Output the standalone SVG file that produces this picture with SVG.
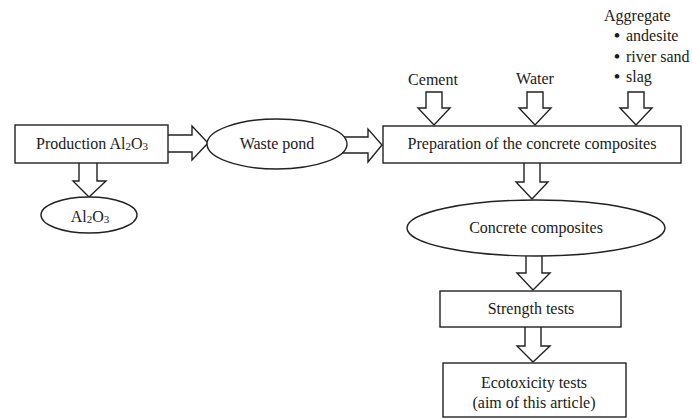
<svg xmlns="http://www.w3.org/2000/svg" width="692" height="419" viewBox="0 0 692 419">
<style>
.n{fill:#fff;stroke:#222;stroke-width:1.4}
.a{fill:#fff;stroke:#222;stroke-width:1.4;stroke-linejoin:miter}
text{font-family:"Liberation Serif","Times New Roman",serif;font-size:16px;fill:#1a1a1a}
.c{text-anchor:middle}
.s{font-size:11px}
.b{font-weight:bold;font-size:17px}
</style>
<rect width="692" height="419" fill="#fff"/>
<g id="connectors">
<polygon class="a" points="79,160 97,160 97,181 106,181 89,197 73,181 79,181"/>
<polygon class="a" points="160,135 192,135 192,126 208,143 192,160 192,152 160,152"/>
<polygon class="a" points="330,137 368,137 368,129 382,145 368,162 368,153 330,153"/>
<polygon class="a" points="426,92 442,92 442,108 450,108 434,125 418,108 426,108"/>
<polygon class="a" points="527,92 543,92 543,108 551,108 535,125 519,108 527,108"/>
<polygon class="a" points="628,92 644,92 644,108 652,108 636,125 620,108 628,108"/>
<polygon class="a" points="524,160 540,160 540,182 548,182 532,199 516,182 524,182"/>
<polygon class="a" points="526,245 542,245 542,273 550,273 533,290 517,273 526,273"/>
<polygon class="a" points="525,322 541,322 541,346 550,346 533,362 517,346 525,346"/>
</g>
<g id="production">
<rect class="n" x="15" y="125" width="153" height="38"/>
<text class="c" x="92" y="149">Production Al<tspan class="s" dy="1">2</tspan><tspan dy="-1">O</tspan><tspan class="s" dy="1">3</tspan></text>
</g>
<g id="al2o3">
<ellipse class="n" cx="89" cy="215" rx="48" ry="18"/>
<text class="c" x="90" y="222">Al<tspan class="s" dy="1">2</tspan><tspan dy="-1">O</tspan><tspan class="s" dy="1">3</tspan></text>
</g>
<g id="waste-pond">
<ellipse class="n" cx="277" cy="144" rx="70" ry="25"/>
<text class="c" x="277" y="149">Waste pond</text>
</g>
<g id="cement"><text class="c" x="433" y="85">Cement</text></g>
<g id="water"><text class="c" x="535" y="84">Water</text></g>
<g id="aggregate">
<text x="604" y="21">Aggregate</text>
<text x="614" y="41"><tspan class="b">•</tspan><tspan x="626">andesite</tspan></text>
<text x="614" y="62"><tspan class="b">•</tspan><tspan x="626">river sand</tspan></text>
<text x="614" y="82"><tspan class="b">•</tspan><tspan x="626">slag</tspan></text>
</g>
<g id="preparation">
<rect class="n" x="383" y="126" width="298" height="37"/>
<text class="c" x="532" y="149">Preparation of the concrete composites</text>
</g>
<g id="concrete">
<ellipse class="n" cx="536" cy="228" rx="129" ry="28"/>
<text class="c" x="536" y="233">Concrete composites</text>
</g>
<g id="strength">
<rect class="n" x="440" y="291" width="181" height="36"/>
<text class="c" x="531" y="314">Strength tests</text>
</g>
<g id="ecotoxicity">
<rect class="n" x="443" y="363" width="183" height="54"/>
<text class="c" x="534" y="388">Ecotoxicity tests</text>
<text class="c" x="534" y="408">(aim of this article)</text>
</g>
</svg>
